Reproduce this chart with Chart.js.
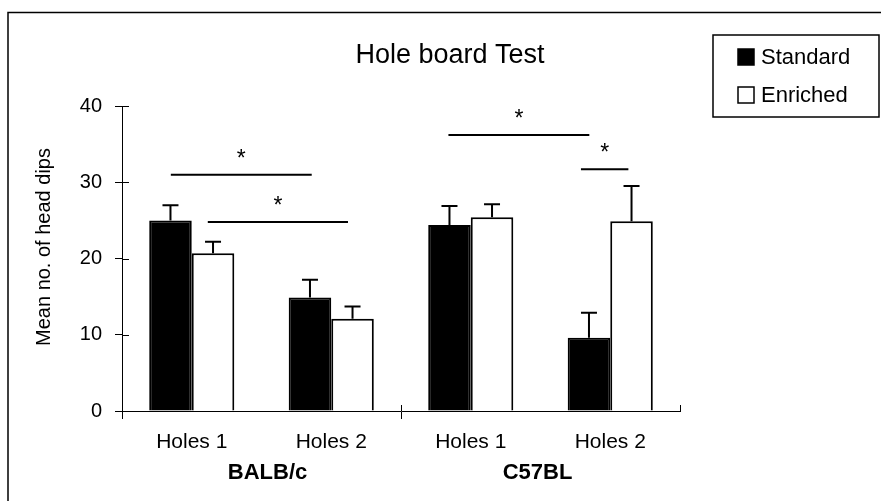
<!DOCTYPE html>
<html>
<head>
<meta charset="utf-8">
<script src="https://cdn.jsdelivr.net/npm/chart.js@4"></script>
<style>
  html, body { margin: 0; padding: 0; background: #fff; }
  #wrap { width: 881px; height: 501px; }
</style>
</head>
<body>
<div id="wrap"><canvas id="myChart" width="881" height="501"></canvas></div>
<script>
// donnees
const categories = ['Holes 1', 'Holes 2', 'Holes 1', 'Holes 2'];
const groups = ['BALB/c', 'C57BL'];
const standard = [25, 14.9, 24.4, 9.6];
const standardErr = [2, 2.3, 2.5, 3.3];
const enriched = [20.7, 12.1, 25.4, 24.9];
const enrichedErr = [1.5, 1.6, 1.7, 4.6];
const yTicks = [0, 10, 20, 30, 40];
// traits de significativite (index de categorie, valeur y)
const sigFrom = [-0.15, 0.115, 1.84, 2.79];
const sigTo = [0.86, 1.12, 2.85, 3.13];
const sigLevel = [31.0, 24.8, 36.2, 31.7];

const FONT = "'Liberation Sans', Arial, sans-serif";

const extras = {
    id: 'extras',
    beforeDraw(chart) {
        const c = chart.ctx;
        c.save();
        c.fillStyle = '#fff';
        c.fillRect(0, 0, chart.width, chart.height);
        // cadre exterieur
        c.strokeStyle = '#000';
        c.lineWidth = 1.5;
        c.beginPath();
        c.moveTo(8, chart.height);
        c.lineTo(8, 12.5);
        c.lineTo(chart.width, 12.5);
        c.stroke();
        c.restore();
    },
    afterDatasetsDraw(chart) {
        const c = chart.ctx;
        const x = chart.scales.x, y = chart.scales.y;
        c.save();
        c.strokeStyle = '#000';
        c.lineWidth = 2;
        // barres d'erreur
        const errs = [standardErr, enrichedErr];
        chart.data.datasets.forEach((ds, di) => {
            chart.getDatasetMeta(di).data.forEach((bar, i) => {
                const top = y.getPixelForValue(ds.data[i] + errs[di][i]);
                c.beginPath();
                c.moveTo(bar.x, bar.y);
                c.lineTo(bar.x, top);
                c.moveTo(bar.x - 8, top);
                c.lineTo(bar.x + 8, top);
                c.stroke();
            });
        });
        // traits + etoiles
        c.fillStyle = '#000';
        c.font = '23px ' + FONT;
        c.textAlign = 'center';
        c.textBaseline = 'alphabetic';
        sigLevel.forEach((v, i) => {
            const x0 = x.getPixelForValue(sigFrom[i]);
            const x1 = x.getPixelForValue(sigTo[i]);
            const py = y.getPixelForValue(v);
            c.beginPath();
            c.moveTo(x0, py);
            c.lineTo(x1, py);
            c.stroke();
            c.fillText('*', (x0 + x1) / 2, py - 9);
        });
        // petits traits de graduation vers l'interieur
        c.lineWidth = 1;
        yTicks.forEach(t => {
            const py = Math.round(y.getPixelForValue(t)) + 0.5;
            c.beginPath();
            c.moveTo(x.left, py);
            c.lineTo(x.left + 7, py);
            c.stroke();
        });
        [0, 2, 4].forEach(k => {
            const px = Math.round(x.getPixelForValue(k - 0.5)) + 0.5;
            c.beginPath();
            c.moveTo(px, y.bottom);
            c.lineTo(px, y.bottom - 6);
            c.stroke();
        });
        // noms des souches
        c.font = 'bold 22px ' + FONT;
        c.textBaseline = 'middle';
        groups.forEach((g, gi) => {
            const cx = (x.getPixelForValue(gi * 2) + x.getPixelForValue(gi * 2 + 1)) / 2;
            c.fillText(g, cx + (gi === 0 ? 6 : -3), 473);
        });
        // titre
        c.font = '27px ' + FONT;
        c.fillText('Hole board Test', 450, 56);
        // titre de l'axe y
        c.save();
        c.translate(44, 247);
        c.rotate(-Math.PI / 2);
        c.font = '20px ' + FONT;
        c.fillText('Mean no. of head dips', 0, 0);
        c.restore();
        // legende
        c.lineWidth = 1.5;
        c.strokeRect(713, 35, 166, 82);
        c.font = '22px ' + FONT;
        c.textAlign = 'left';
        chart.data.datasets.forEach((ds, di) => {
            const cy = 57 + di * 38;
            c.fillStyle = ds.backgroundColor;
            c.fillRect(738, cy - 8, 16, 16);
            c.lineWidth = 1.5;
            c.strokeRect(738, cy - 8, 16, 16);
            c.fillStyle = '#000';
            c.fillText(ds.label, 761, cy + 1);
        });
        c.restore();
    }
};

const ctx = document.getElementById('myChart').getContext('2d');
const myChart = new Chart(ctx, {
    type: 'bar',
    data: {
        labels: categories,
        datasets: [{
            label: 'Standard',
            data: standard,
            backgroundColor: '#000',
            borderColor: '#000',
            borderWidth: 2,
            categoryPercentage: 0.61,
            barPercentage: 1.0
        }, {
            label: 'Enriched',
            data: enriched,
            backgroundColor: '#fff',
            borderColor: '#000',
            borderWidth: 2,
            categoryPercentage: 0.61,
            barPercentage: 1.0
        }]
    },
    options: {
        responsive: false,
        animation: false,
        layout: { padding: { left: 25, right: 201, top: 106, bottom: 0 } },
        plugins: {
            legend: { display: false },
            title: { display: false },
            tooltip: { enabled: false }
        },
        scales: {
            x: {
                grid: {
                    offset: true,
                    drawOnChartArea: false,
                    tickLength: 8,
                    color: c => (c.index % 2 === 0 ? '#000' : 'rgba(0,0,0,0)')
                },
                border: { color: '#000', width: 1 },
                ticks: { color: '#000', padding: 11, font: { family: FONT, size: 21 } },
                afterFit: s => { s.height = 90; }
            },
            y: {
                min: 0,
                max: 40,
                afterBuildTicks: s => { s.ticks = yTicks.map(v => ({ value: v })); },
                grid: { drawOnChartArea: false, tickLength: 7, color: '#000' },
                border: { color: '#000', width: 1 },
                ticks: { color: '#000', padding: 13, font: { family: FONT, size: 20 } },
                afterFit: s => { s.width = 97; }
            }
        }
    },
    plugins: [extras]
});
</script>
</body>
</html>
